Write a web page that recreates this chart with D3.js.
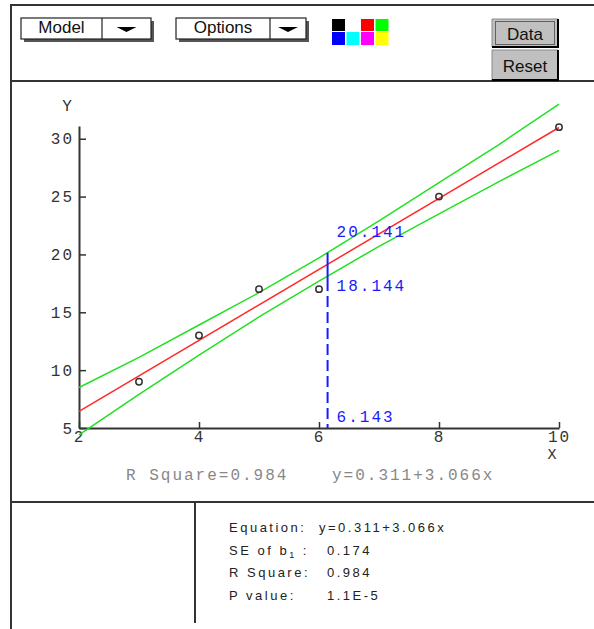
<!DOCTYPE html>
<html>
<head>
<meta charset="utf-8">
<script src="https://cdn.jsdelivr.net/npm/d3@7/dist/d3.min.js"></script>
<style>
  html, body { margin: 0; padding: 0; background: #fff; }
  svg { display: block; }
</style>
</head>
<body>
<div id="chart"></div>
<script>
// data
const xPoints = [3, 4, 5, 6, 8, 10];
const yPoints = [9, 13, 17, 17, 25, 31];

const fitIntercept = 0.311, fitSlope = 3.066;
const fitX = [2, 10];

const bandX     = [2,   3,    4,    5,    6,    7,    8,    9,    10];
const bandUpper = [8.5, 11.1, 13.9, 16.7, 19.7, 22.9, 26.2, 29.5, 33.0];
const bandLower = [4.4, 7.9,  11.3, 14.6, 17.7, 20.7, 23.5, 26.3, 29.0];

const probeX = 6.143, probeUpper = 20.141, probeLower = 18.144;

const xTicks = [2, 4, 6, 8, 10];
const yTicks = [5, 10, 15, 20, 25, 30];

const statLabels = ["Equation:", "SE of b", "R Square:", "P value:"];
const statValues = ["y=0.311+3.066x", "0.174", "0.984", "1.1E-5"];

const paletteTop = ["#000000", null, "#ff0000", "#00ff00"];
const paletteBottom = ["#0000ff", "#00ffff", "#ff00ff", "#ffff00"];

const width = 594, height = 629;
const mono = "'Liberation Mono', 'Courier New', monospace";
const sans = "'Liberation Sans', Arial, sans-serif";

const svg = d3.select("#chart").append("svg")
    .attr("width", width)
    .attr("height", height);

svg.append("rect").attr("width", width).attr("height", height).attr("fill", "#fff");

// frame
const frame = svg.append("g").attr("stroke", "#333").attr("stroke-width", 2).attr("fill", "none");
frame.append("path").attr("d", "M11,629V5H594");
frame.append("line").attr("x1", 11).attr("x2", 594).attr("y1", 81).attr("y2", 81);
frame.append("line").attr("x1", 11).attr("x2", 594).attr("y1", 502).attr("y2", 502);
frame.append("line").attr("x1", 195).attr("x2", 195).attr("y1", 502).attr("y2", 623);

// dropdowns
function dropdown(x, label, divX) {
    const g = svg.append("g");
    g.append("rect").attr("x", x + 3).attr("y", 21).attr("width", 130).attr("height", 21).attr("fill", "#555");
    g.append("rect").attr("x", x).attr("y", 18).attr("width", 130).attr("height", 21)
        .attr("fill", "#fff").attr("stroke", "#222").attr("stroke-width", 1.2);
    g.append("line").attr("x1", divX).attr("x2", divX).attr("y1", 18).attr("y2", 39)
        .attr("stroke", "#222").attr("stroke-width", 1.2);
    g.append("text").attr("x", (x + divX) / 2).attr("y", 33)
        .attr("text-anchor", "middle").attr("font-family", sans).attr("font-size", 17)
        .attr("fill", "#111").text(label);
    const cx = (divX + x + 130) / 2;
    g.append("path").attr("d", `M${cx - 10},27H${cx + 10}L${cx},32Z`).attr("fill", "#000");
}
dropdown(21, "Model", 102);
dropdown(176, "Options", 270);

// colour palette
const pal = svg.append("g");
paletteTop.forEach((c, i) => {
    if (c) pal.append("rect").attr("x", 332 + i * 14.5).attr("y", 19).attr("width", 13).attr("height", 12).attr("fill", c);
});
paletteBottom.forEach((c, i) => {
    pal.append("rect").attr("x", 332 + i * 14.5).attr("y", 32).attr("width", 13).attr("height", 13).attr("fill", c);
});

// buttons
function button(y, h, label, focused) {
    const g = svg.append("g");
    g.append("rect").attr("x", 492).attr("y", y).attr("width", 66).attr("height", h).attr("fill", "#c0c0c0");
    g.append("path").attr("d", `M492,${y + h}V${y}H558`).attr("stroke", "#888").attr("stroke-width", 1).attr("fill", "none");
    g.append("path").attr("d", `M558,${y}V${y + h}H492`).attr("stroke", "#000").attr("stroke-width", 2).attr("fill", "none");
    if (focused) {
        g.append("rect").attr("x", 495.5).attr("y", y + 2.5).attr("width", 59).attr("height", h - 5)
            .attr("fill", "none").attr("stroke", "#000").attr("stroke-width", 1).attr("stroke-dasharray", "1,1");
    }
    g.append("text").attr("x", 525).attr("y", y + h / 2 + 6.5).attr("text-anchor", "middle")
        .attr("font-family", sans).attr("font-size", 17).attr("fill", "#111").text(label);
}
button(19, 28, "Data", true);
button(50, 30, "Reset", false);

// plot
const x = d3.scaleLinear().domain([2, 10]).range([79, 559]);
const y = d3.scaleLinear().domain([5, 31.1]).range([428, 126]);

const xAxis = svg.append("g").attr("transform", `translate(0,${y(5)})`)
    .call(d3.axisBottom(x).tickValues(xTicks).tickSize(-6).tickSizeOuter(0).tickPadding(3));
const yAxis = svg.append("g").attr("transform", `translate(${x(2)},0)`)
    .call(d3.axisLeft(y).tickValues(yTicks).tickSize(-7).tickSizeOuter(0).tickPadding(5));

[xAxis, yAxis].forEach(a => {
    a.select(".domain").attr("stroke", "#333").attr("stroke-width", 2);
    a.selectAll(".tick line").attr("stroke", "#333").attr("stroke-width", 1.5);
    a.selectAll(".tick text").attr("font-family", mono).attr("font-size", 16)
        .attr("letter-spacing", 2).attr("fill", "#333");
});

svg.append("text").attr("x", 67).attr("y", 111).attr("text-anchor", "middle")
    .attr("font-family", mono).attr("font-size", 16).attr("fill", "#333").text("Y");
svg.append("text").attr("x", 552).attr("y", 459).attr("text-anchor", "middle")
    .attr("font-family", mono).attr("font-size", 15).attr("fill", "#333").text("X");

// confidence bands
const bandLine = d3.line().x(d => x(d[0])).y(d => y(d[1]));
[bandUpper, bandLower].forEach(b => {
    svg.append("path").datum(bandX.map((v, i) => [v, b[i]]))
        .attr("d", bandLine).attr("fill", "none").attr("stroke", "#22e022").attr("stroke-width", 1.5);
});

// fitted line
svg.append("path").datum(fitX.map(v => [v, fitIntercept + fitSlope * v]))
    .attr("d", bandLine).attr("fill", "none").attr("stroke", "#ff2a2a").attr("stroke-width", 1.5);

// data points
svg.selectAll("circle.pt").data(xPoints.map((v, i) => [v, yPoints[i]])).enter()
    .append("circle").attr("class", "pt")
    .attr("cx", d => x(d[0])).attr("cy", d => y(d[1])).attr("r", 3.2)
    .attr("fill", "none").attr("stroke", "#333").attr("stroke-width", 1.5);

// probe line
const blue = "#1a1aff";
svg.append("line").attr("x1", x(probeX)).attr("x2", x(probeX))
    .attr("y1", y(probeUpper)).attr("y2", y(probeLower))
    .attr("stroke", blue).attr("stroke-width", 2);
svg.append("line").attr("x1", x(probeX)).attr("x2", x(probeX))
    .attr("y1", y(probeLower)).attr("y2", y(5))
    .attr("stroke", blue).attr("stroke-width", 2)
    .attr("stroke-dasharray", "15,5," + d3.range(10).map(() => "11,5").join(","));

const probeText = (val, txt, dy) => svg.append("text")
    .attr("x", x(probeX) + 9).attr("y", y(val) + dy)
    .attr("font-family", mono).attr("font-size", 16).attr("letter-spacing", 2)
    .attr("fill", blue).text(txt);
probeText(probeUpper, d3.format(".3f")(probeUpper), -16);
probeText(probeLower, d3.format(".3f")(probeLower), 15);
probeText(5, d3.format(".3f")(probeX), -6);

// caption under plot
svg.append("text").attr("x", 126).attr("y", 480)
    .attr("font-family", mono).attr("font-size", 16).attr("letter-spacing", 2)
    .attr("fill", "#888").text("R Square=0.984");
svg.append("text").attr("x", 332).attr("y", 480)
    .attr("font-family", mono).attr("font-size", 16).attr("letter-spacing", 2)
    .attr("fill", "#888").text("y=" + fitIntercept + "+" + fitSlope + "x");

// stats panel
const stats = svg.append("g").attr("font-family", sans).attr("font-size", 13)
    .attr("letter-spacing", 2.5).attr("fill", "#222");
statLabels.forEach((lab, i) => {
    const t = stats.append("text").attr("x", 229).attr("y", 532 + i * 22.5);
    if (i === 1) {
        t.append("tspan").text(lab);
        t.append("tspan").attr("font-size", 9).attr("dy", 3).text("1");
        t.append("tspan").attr("dy", -3).text(" :");
    } else {
        t.text(lab);
    }
    stats.append("text").attr("x", i === 0 ? 319 : 327).attr("y", 532 + i * 22.5).text(statValues[i]);
});
</script>
</body>
</html>
